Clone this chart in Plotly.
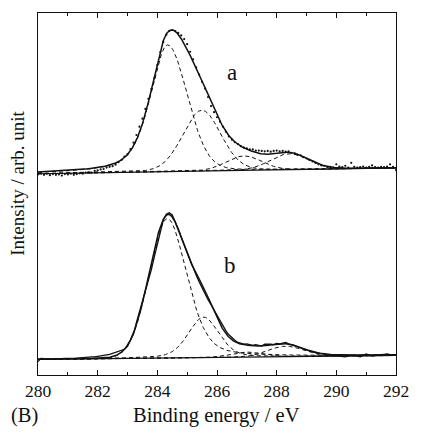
import numpy as np
import plotly.graph_objects as go

# ---------------- data ----------------
energy = np.round(np.arange(280.0, 292.0001, 0.1), 1)  # binding energy, eV

# spectrum a (measured points, arbitrary intensity incl. vertical offset)
data_a = [
    55.4, 55.7, 55.3, 55.6, 55.2, 55.5, 55.3, 55.4, 55.1, 55.5,
    55.4, 55.6, 55.3, 55.5, 55.7, 55.6, 55.9, 56.0, 55.9, 56.4,
    56.5, 56.8, 56.9, 57.3, 57.5, 57.7, 58.1, 58.8, 59.4, 60.3,
    61.0, 62.4, 64.2, 66.3, 68.6, 70.8, 73.5, 76.3, 79.0, 82.0,
    85.6, 89.2, 92.0, 94.0, 95.1, 95.3, 95.0, 94.5, 93.8, 92.8,
    91.4, 89.3, 87.2, 85.0, 83.0, 81.0, 79.1, 76.8, 74.3, 72.6,
    71.2, 70.0, 68.6, 67.2, 65.9, 65.0, 64.3, 63.8, 63.2, 62.8,
    62.6, 62.3, 62.3, 62.0, 62.0, 61.9, 61.8, 61.9, 61.7, 61.9,
    62.0, 61.8, 61.9, 61.7, 61.8, 61.4, 61.2, 60.8, 60.7, 60.2,
    59.8, 59.4, 59.0, 58.6, 58.2, 57.9, 57.8, 57.4, 57.5, 57.3,
    58.2, 57.6, 57.4, 57.8, 57.3, 58.6, 57.5, 57.3, 57.4, 57.6,
    57.3, 57.5, 57.9, 57.4, 57.3, 57.5, 57.4, 57.6, 58.2, 57.5,
    56.6,
]

# spectrum b (measured trace)
data_b = [
    3.7, 4.6, 4.5, 4.4, 4.5, 4.4, 4.5, 4.4, 4.5, 4.6,
    4.5, 4.6, 4.6, 4.7, 4.6, 4.8, 4.8, 4.9, 5.0, 5.0,
    5.1, 5.2, 5.3, 5.5, 5.7, 6.0, 6.3, 6.5, 6.7, 7.1,
    7.9, 9.4, 11.3, 14.5, 17.4, 20.2, 23.0, 25.9, 29.1, 32.7,
    36.3, 40.0, 42.8, 44.4, 44.8, 44.2, 42.5, 40.4, 38.2, 36.0,
    33.9, 31.7, 29.6, 27.6, 25.8, 24.0, 22.4, 20.8, 19.4, 18.0,
    16.6, 14.9, 13.4, 12.2, 11.1, 10.3, 9.6, 9.0, 8.7, 8.5,
    8.6, 8.3, 8.2, 8.4, 8.2, 8.0, 8.5, 8.6, 8.5, 8.4,
    8.7, 8.6, 8.8, 9.0, 8.6, 8.3, 8.0, 7.8, 7.5, 7.2,
    6.9, 6.7, 6.4, 6.2, 6.0, 5.8, 5.7, 5.6, 5.5, 5.4,
    5.3, 5.1, 5.0, 5.0, 5.3, 5.5, 5.4, 5.1, 5.0, 5.4,
    5.8, 5.5, 5.2, 5.4, 5.6, 5.6, 5.7, 5.8, 5.6, 5.5,
    5.6,
]

# fitted components: centre (eV), height, HWHM left/right (eV), Lorentzian fraction left/right
comp_a_center = [284.34, 285.49, 286.90, 288.42]
comp_a_height = [35.0, 16.8, 4.0, 4.4]
comp_a_hwhm_l = [0.68, 0.75, 0.70, 0.75]
comp_a_hwhm_r = [0.78, 0.75, 0.70, 0.75]
comp_a_mix_l = [0.5, 0.1, 0.0, 0.0]
comp_a_mix_r = [0.1, 0.1, 0.0, 0.0]
bg_a = [55.6, 57.2]          # linear background at 280 and 292 eV

comp_b_center = [284.34, 285.55, 287.00, 288.30]
comp_b_height = [38.5, 11.2, 1.4, 2.9]
comp_b_hwhm_l = [0.72, 0.60, 0.60, 0.70]
comp_b_hwhm_r = [0.76, 0.60, 0.60, 0.70]
comp_b_mix_l = [0.0, 0.3, 0.0, 0.0]
comp_b_mix_r = [0.35, 0.3, 0.0, 0.0]
bg_b = [4.3, 5.4]

x_ticks = [280, 282, 284, 286, 288, 290, 292]
panel_labels = ["a", "b"]

# ---------------- model evaluation ----------------
xf = np.linspace(280, 292, 961)


def pseudo_voigt(x, c, h, wl, wr, ml, mr):
    left = x < c
    w = np.where(left, wl, wr)
    m = np.where(left, ml, mr)
    t = ((x - c) / w) ** 2
    return h * ((1 - m) * np.exp(-np.log(2) * t) + m / (1 + t))


def background(x, b):
    return b[0] + (b[1] - b[0]) * (x - 280) / 12


fig = go.Figure()
BLACK = "#111111"

for (cen, hei, wl, wr, ml, mr, bg, data, as_points) in [
    (comp_a_center, comp_a_height, comp_a_hwhm_l, comp_a_hwhm_r, comp_a_mix_l, comp_a_mix_r, bg_a, data_a, True),
    (comp_b_center, comp_b_height, comp_b_hwhm_l, comp_b_hwhm_r, comp_b_mix_l, comp_b_mix_r, bg_b, data_b, False),
]:
    base = background(xf, bg)
    total = base.copy()
    for i in range(len(cen)):
        comp = pseudo_voigt(xf, cen[i], hei[i], wl[i], wr[i], ml[i], mr[i])
        total = total + comp
        fig.add_trace(go.Scatter(x=xf, y=base + comp, mode="lines",
                                 line=dict(color=BLACK, width=1, dash="4px,3px"),
                                 hoverinfo="skip", showlegend=False))
    fig.add_trace(go.Scatter(x=xf, y=base, mode="lines",
                             line=dict(color=BLACK, width=1.2), showlegend=False))
    if as_points:
        fig.add_trace(go.Scatter(x=energy, y=data, mode="markers",
                                 marker=dict(color=BLACK, size=2.2), showlegend=False))
    else:
        fig.add_trace(go.Scatter(x=energy, y=data, mode="lines",
                                 line=dict(color=BLACK, width=1.3), showlegend=False))
    fig.add_trace(go.Scatter(x=xf, y=total, mode="lines",
                             line=dict(color=BLACK, width=1.5), showlegend=False))

FONT = '"Liberation Serif", "Times New Roman", serif'

fig.update_layout(
    width=421, height=434,
    margin=dict(l=38, r=18, t=12, b=59),
    paper_bgcolor="white", plot_bgcolor="white",
    font=dict(family=FONT, color=BLACK, size=18),
    showlegend=False,
    xaxis=dict(range=[280, 292], tickvals=x_ticks, ticks="inside", ticklen=5, tickwidth=1.2,
               tickcolor=BLACK, showline=True, linecolor=BLACK, linewidth=1.4, mirror="ticks",
               showgrid=False, zeroline=False, tickfont=dict(family=FONT, size=17.5),
               minor=dict(dtick=1, ticks="inside", ticklen=3, tickwidth=1.1, tickcolor=BLACK,
                          showgrid=False)),
    yaxis=dict(range=[0, 100], showticklabels=False, ticks="", showline=True, linecolor=BLACK,
               linewidth=1.4, mirror=True, showgrid=False, zeroline=False),
    annotations=[
        dict(text=panel_labels[0], x=286.5, y=83.5, xref="x", yref="y", showarrow=False,
             font=dict(size=23, family=FONT)),
        dict(text=panel_labels[1], x=286.43, y=30.3, xref="x", yref="y", showarrow=False,
             font=dict(size=23, family=FONT)),
        dict(text="Binding energy / eV", x=0.4986, y=-0.112, xref="paper", yref="paper",
             showarrow=False, font=dict(size=20.5, family=FONT), xanchor="center", yanchor="middle"),
        dict(text="(B)", x=-0.038, y=-0.112, xref="paper", yref="paper",
             showarrow=False, font=dict(size=20.5, family=FONT), xanchor="center", yanchor="middle"),
        dict(text="Intensity / arb. unit", x=-0.057, y=0.53, xref="paper", yref="paper",
             showarrow=False, textangle=-90, font=dict(size=19, family=FONT),
             xanchor="center", yanchor="middle"),
    ],
)

fig.write_html("out.html", config={"displayModeBar": False},
               post_script="document.body.style.margin='0px';")
